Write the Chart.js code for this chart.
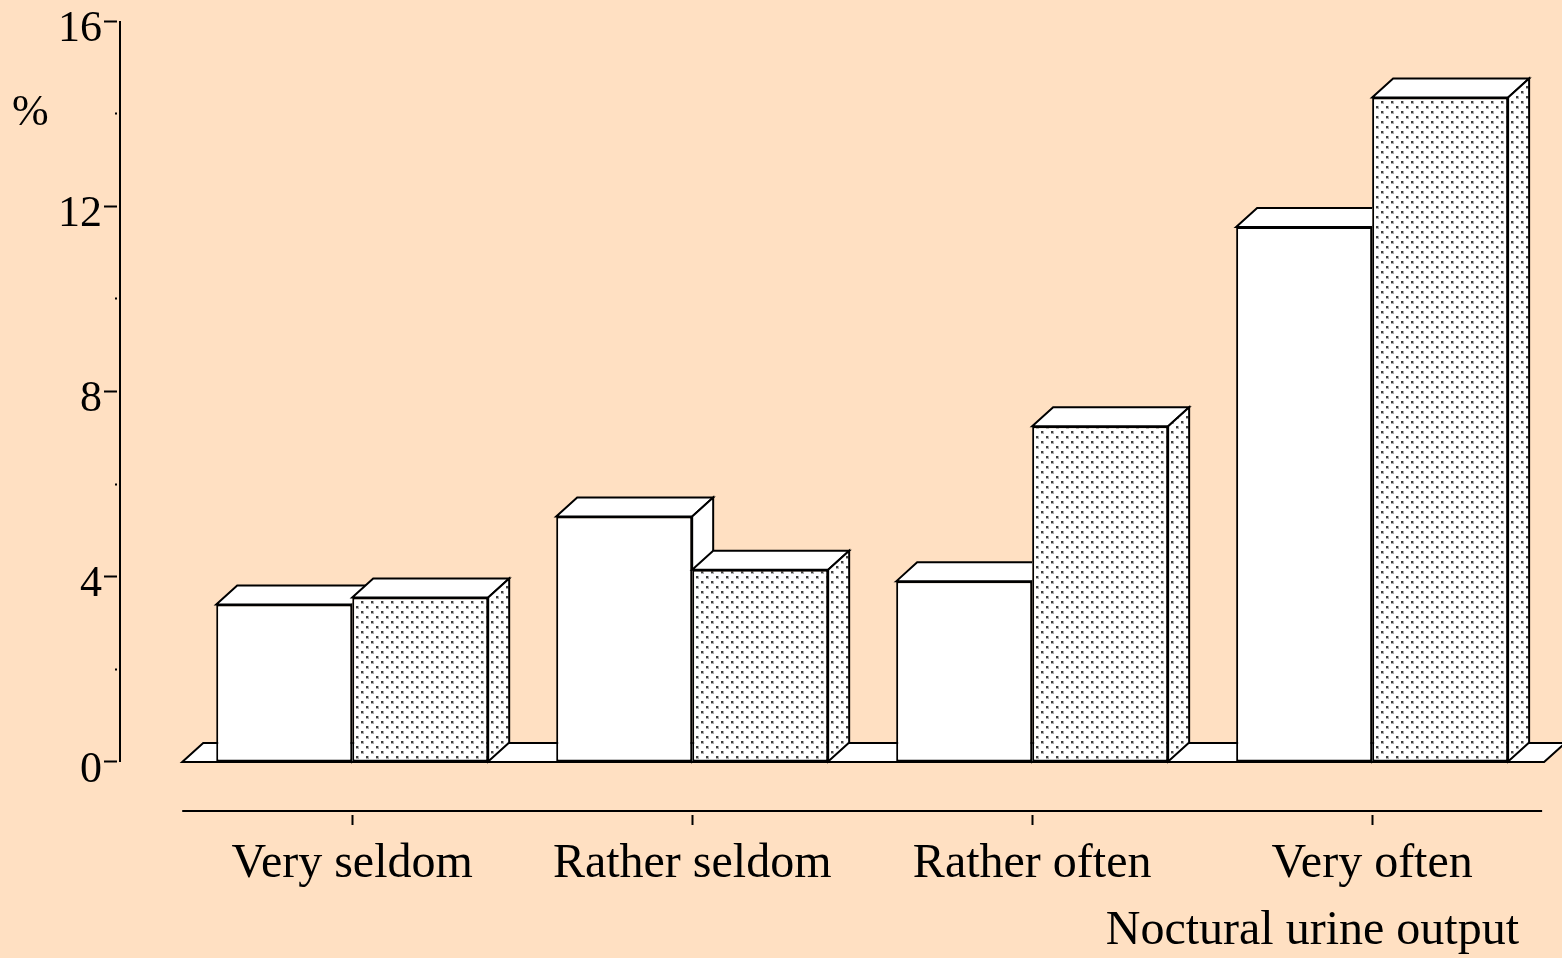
<!DOCTYPE html>
<html>
<head>
<meta charset="utf-8">
<script src="https://cdn.jsdelivr.net/npm/chart.js@4.4.0/dist/chart.umd.min.js"></script>
<style>
  html, body { margin: 0; padding: 0; background: #ffe0c2; }
  canvas { display: block; }
</style>
</head>
<body>
<canvas id="chart" width="1562" height="958"></canvas>
<script>
const categories = ["Very seldom", "Rather seldom", "Rather often", "Very often"];
const plainValues = [3.4, 5.3, 3.9, 11.55];
const dottedValues = [3.55, 4.15, 7.25, 14.35];
const yTicks = [0, 2, 4, 6, 8, 10, 12, 14, 16];
const yLabelled = [0, 4, 8, 12, 16];
const xTitle = "Noctural urine output";
const yUnit = "%";

const BG = "#ffe0c2";
const FONT = '"Liberation Serif", "Times New Roman", serif';
const DX = 21, DY = -19; // depth of the fake 3d

function makeDots() {
    const c = document.createElement("canvas");
    c.width = 10; c.height = 10;
    const g = c.getContext("2d");
    g.fillStyle = "#fff";
    g.fillRect(0, 0, 10, 10);
    for (const [px, py] of [[1, 1], [6, 6]]) {
        g.fillStyle = "#b0b0b0";
        g.fillRect(px, py, 3, 3);
        g.fillStyle = "#404040";
        g.fillRect(px, py, 2, 2);
    }
    return g.createPattern(c, "repeat");
}
const dots = makeDots();

function poly(ctx, pts, fill) {
    ctx.beginPath();
    ctx.moveTo(pts[0][0], pts[0][1]);
    for (let i = 1; i < pts.length; i++) ctx.lineTo(pts[i][0], pts[i][1]);
    ctx.closePath();
    ctx.fillStyle = fill;
    ctx.fill();
    ctx.stroke();
}

function barBox(el) {
    const p = el.getProps(["x", "y", "base", "width"], true);
    return { l: p.x - p.width / 2, r: p.x + p.width / 2, t: p.y, b: p.base };
}

function topAndSide(ctx, b, fillTop, fillSide) {
    poly(ctx, [[b.l, b.t], [b.l + DX, b.t + DY], [b.r + DX, b.t + DY], [b.r, b.t]], fillTop);
    poly(ctx, [[b.r, b.t], [b.r + DX, b.t + DY], [b.r + DX, b.b + DY], [b.r, b.b]], fillSide);
}

const pseudo3d = {
    id: "pseudo3d",
    beforeDraw(chart) {
        const ctx = chart.ctx;
        ctx.save();
        ctx.fillStyle = BG;
        ctx.fillRect(0, 0, chart.width, chart.height);
        ctx.restore();
    },
    beforeDatasetsDraw(chart) {
        // floor slab
        const ctx = chart.ctx, x = chart.scales.x, y = chart.scales.y;
        const l = x.getPixelForValue(-0.5);
        const r = x.getPixelForValue(categories.length - 0.5) + 2;
        const b = y.getPixelForValue(0);
        ctx.save();
        ctx.lineWidth = 2;
        ctx.strokeStyle = "#000";
        poly(ctx, [[l, b], [l + DX, b + DY], [r + DX, b + DY], [r, b]], "#fff");
        ctx.restore();
    },
    afterDatasetsDraw(chart) {
        const ctx = chart.ctx;
        const plain = chart.getDatasetMeta(0).data;
        const dotted = chart.getDatasetMeta(1).data;
        ctx.save();
        ctx.lineWidth = 2;
        ctx.strokeStyle = "#000";
        ctx.lineJoin = "miter";
        for (let i = 0; i < categories.length; i++) {
            const a = barBox(plain[i]);
            const d = barBox(dotted[i]);
            // the plain box sits behind the dotted front face
            ctx.save();
            ctx.beginPath();
            ctx.rect(0, 0, chart.width, chart.height);
            ctx.rect(d.l, d.t, d.r - d.l, d.b - d.t);
            ctx.clip("evenodd");
            topAndSide(ctx, a, "#fff", "#fff");
            ctx.restore();
            topAndSide(ctx, d, "#fff", dots);
        }
        ctx.restore();
    },
    afterDraw(chart) {
        const ctx = chart.ctx, x = chart.scales.x, y = chart.scales.y, area = chart.chartArea;
        ctx.save();
        ctx.strokeStyle = "#000";
        ctx.lineWidth = 2;
        // y axis line, only over 0..16
        ctx.beginPath();
        ctx.moveTo(area.left, y.getPixelForValue(yTicks[yTicks.length - 1]));
        ctx.lineTo(area.left, y.getPixelForValue(0));
        ctx.stroke();
        // category axis line
        ctx.beginPath();
        ctx.moveTo(x.getPixelForValue(-0.5), area.bottom - 1);
        ctx.lineTo(x.getPixelForValue(categories.length - 0.5), area.bottom - 1);
        ctx.stroke();
        ctx.fillStyle = "#000";
        ctx.font = "44px " + FONT;
        ctx.textAlign = "left";
        ctx.textBaseline = "middle";
        ctx.fillText(yUnit, 12, y.getPixelForValue(14));
        ctx.restore();
    }
};

new Chart(document.getElementById("chart"), {
    type: "bar",
    data: {
        datasets: [
            {
                data: plainValues.map((v, i) => ({ x: i, y: v })),
                backgroundColor: "#fff",
                borderColor: "#000",
                borderWidth: 2,
                borderSkipped: false,
                categoryPercentage: 0.8,
                barPercentage: 1
            },
            {
                data: dottedValues.map((v, i) => ({ x: i, y: v })),
                backgroundColor: dots,
                borderColor: "#000",
                borderWidth: 2,
                borderSkipped: false,
                categoryPercentage: 0.8,
                barPercentage: 1
            }
        ]
    },
    options: {
        responsive: false,
        animation: false,
        layout: { padding: { top: 21, right: 43, bottom: 0, left: 0 } },
        plugins: { legend: { display: false }, tooltip: { enabled: false } },
        scales: {
            x: {
                type: "linear",
                offset: false,
                min: -0.683,
                max: 3.432,
                afterBuildTicks: s => { s.ticks = categories.map((c, i) => ({ value: i })); },
                afterFit: s => { s.height = 146; },
                border: { display: false },
                grid: {
                    offset: false,
                    drawOnChartArea: false,
                    tickLength: 13,
                    tickWidth: 2,
                    tickColor: "#000",
                    tickBorderDash: [0, 3, 10, 10]
                },
                ticks: {
                    color: "#000",
                    font: { family: FONT, size: 48 },
                    padding: 11,
                    maxRotation: 0,
                    autoSkip: false,
                    callback: v => categories[v]
                },
                title: {
                    display: true,
                    text: xTitle,
                    align: "end",
                    color: "#000",
                    font: { family: FONT, size: 48, lineHeight: 1.1 },
                    padding: 0
                }
            },
            y: {
                min: -1.08,
                max: 16,
                afterBuildTicks: s => { s.ticks = yTicks.map(v => ({ value: v })); },
                afterFit: s => { s.width = 120; },
                border: { display: false },
                grid: {
                    drawOnChartArea: false,
                    tickLength: 16,
                    tickWidth: 2,
                    tickColor: "#000",
                    tickBorderDash: ctx => (ctx.tick && !yLabelled.includes(ctx.tick.value)) ? [0, 11, 2, 10] : [13, 3]
                },
                ticks: {
                    color: "#000",
                    font: { family: FONT, size: 44, lineHeight: 0.8 },
                    padding: 2,
                    labelOffset: 8,
                    autoSkip: false,
                    callback: v => yLabelled.includes(v) ? String(v) : ""
                }
            }
        }
    },
    plugins: [pseudo3d]
});
</script>
</body>
</html>
